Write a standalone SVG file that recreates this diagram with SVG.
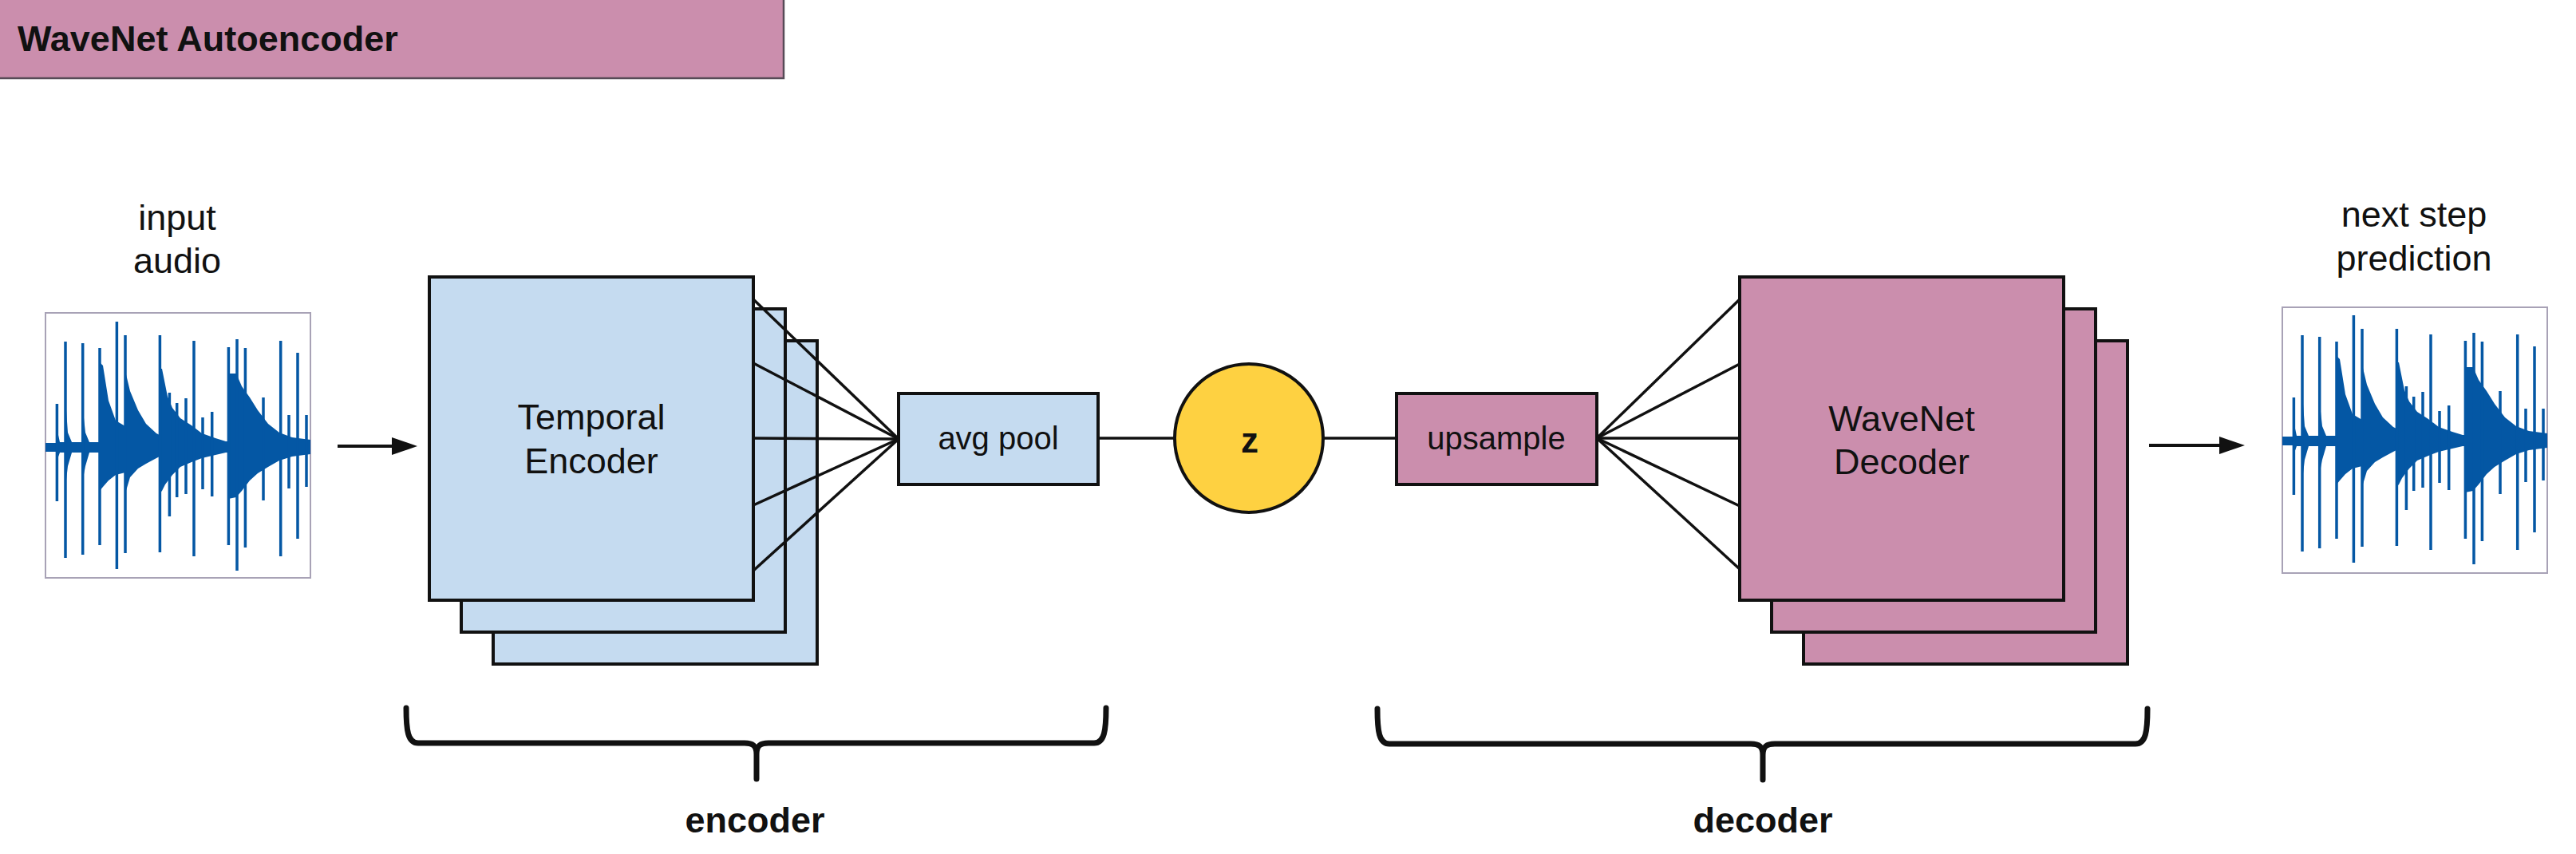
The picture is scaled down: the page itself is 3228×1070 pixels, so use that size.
<svg xmlns="http://www.w3.org/2000/svg" xmlns:xlink="http://www.w3.org/1999/xlink" width="3228" height="1070" viewBox="0 0 3228 1070">
<style>
  .lbl{font-family:"Liberation Sans",Arial,Helvetica,sans-serif;font-size:45px;fill:#111;text-anchor:middle}
  .small{font-size:40px}
  .bold{font-weight:bold}
  .blue{fill:#c5dbf0;stroke:#111;stroke-width:4}
  .pink{fill:#cb8ead;stroke:#111;stroke-width:4}
  .yellow{fill:#fed141;stroke:#111;stroke-width:4}
  .audiobox{fill:#fff;stroke:#a8a2b6;stroke-width:2}
  .wire{stroke:#111;stroke-width:3.5;fill:none}
  .arrow{stroke:#111;stroke-width:4;fill:none}
  .brace{stroke:#111;stroke-width:7;fill:none;stroke-linecap:round;stroke-linejoin:round}
  .wave{fill:#0457a4}
  .spk{stroke:#0457a4;stroke-width:3.5;fill:none}
</style>
<defs>
  <marker id="ah" markerUnits="userSpaceOnUse" markerWidth="32" markerHeight="22" refX="4" refY="11" orient="auto">
    <path d="M0,0 L32,11 L0,22 Z" fill="#111"/>
  </marker>
  <g id="waveform">
    <path class="wave" d="M0,-5 L14,-5 L14,-24 L18,-6 L25,-6 L25,-60 L28,-18 L33,-6 L46,-6 L46,-55 L50,-18 L55,-6 L68,-6 L68,-106 L72,-102 L79,-58 L88,-33 L100,-26 L100,-95 L106,-70 L116,-46 L126,-29 L139,-17 L143,-15 L143,-98 L146,-98 L153,-63 L159,-49 L169,-36 L183,-27 L196,-17 L213,-11 L226,-7 L229,-7 L229,-92 L239,-92 L246,-76 L256,-62 L266,-46 L279,-29 L293,-18 L309,-12 L332,-9 L332,9 L309,12 L293,17 L279,25 L266,33 L256,42 L246,55 L239,63 L229,65 L229,7 L226,7 L213,10 L196,14 L183,19 L169,25 L159,35 L150,47 L146,55 L143,58 L143,12 L139,14 L126,21 L116,27 L106,38 L100,58 L100,32 L88,35 L79,42 L72,50 L68,55 L68,7 L55,7 L50,24 L46,45 L46,7 L33,7 L28,24 L25,50 L25,7 L18,7 L14,18 L14,6 L0,6 Z"/>
    <path class="spk" d="M14.4,-54V68 M25,-132V139 M46.7,-130V135 M68,-124V123 M89.4,-157V153 M100,-140V133 M143.4,-140V132 M155.4,-68V87 M164.7,-55V63 M176,-61V59 M186,-133V137 M197,-37V53 M208.7,-44V62 M229.4,-125V123 M240,-135V155 M250.4,-124V126 M273,-62V67 M294.7,-133V137 M305,-40V52 M316,-118V115 M327,-40V50"/>
  </g>
</defs>

<rect width="3228" height="1070" fill="#fff"/>

<g id="title">
  <rect x="-3" y="-3" width="985" height="101" fill="#cb8ead" stroke="#574b57" stroke-width="2.5"/>
  <text class="lbl bold" x="22" y="64" style="text-anchor:start">WaveNet Autoencoder</text>
</g>

<g id="input-audio">
  <text class="lbl" x="222" y="288">input</text>
  <text class="lbl" x="222" y="342">audio</text>
  <rect class="audiobox" x="57" y="392" width="332" height="332"/>
  <use xlink:href="#waveform" href="#waveform" transform="translate(57,560)"/>
</g>

<g id="temporal-encoder">
  <rect class="blue" x="618" y="427" width="406" height="405"/>
  <rect class="blue" x="578" y="387" width="406" height="405"/>
  <rect class="blue" x="538" y="347" width="406" height="405"/>
  <text class="lbl" x="741" y="538">Temporal</text>
  <text class="lbl" x="741" y="593">Encoder</text>
</g>

<g id="avg-pool">
  <rect class="blue" x="1126" y="493" width="250" height="114"/>
  <text class="lbl small" x="1251" y="563">avg pool</text>
</g>

<g id="z">
  <circle class="yellow" cx="1565" cy="549" r="93"/>
  <text class="lbl bold" x="1566" y="567" style="font-size:44px">z</text>
</g>

<g id="upsample">
  <rect class="pink" x="1750" y="493" width="251" height="114"/>
  <text class="lbl small" x="1875" y="563">upsample</text>
</g>

<g id="wavenet-decoder">
  <rect class="pink" x="2260" y="427" width="406" height="405"/>
  <rect class="pink" x="2220" y="387" width="406" height="405"/>
  <rect class="pink" x="2180" y="347" width="406" height="405"/>
  <text class="lbl" x="2383" y="540">WaveNet</text>
  <text class="lbl" x="2383" y="594">Decoder</text>
</g>

<g id="next-step-prediction">
  <text class="lbl" x="3025" y="284">next step</text>
  <text class="lbl" x="3025" y="339">prediction</text>
  <rect class="audiobox" x="2860" y="385" width="332" height="333"/>
  <use xlink:href="#waveform" href="#waveform" transform="translate(2860,552)"/>
</g>

<g id="encoder-brace">
  <path class="brace" d="M509,887 C509,915 511,931 524,931 H933 C943,931 948,934 948,945 V976 M948,945 C948,934 953,931 963,931 H1371 C1384,931 1386,915 1386,887"/>
  <text class="lbl bold" x="946" y="1043">encoder</text>
</g>

<g id="decoder-brace">
  <path class="brace" d="M1726,888 C1726,916 1728,932 1741,932 H2194 C2204,932 2209,935 2209,946 V977 M2209,946 C2209,935 2214,932 2224,932 H2676 C2689,932 2691,916 2691,888"/>
  <text class="lbl bold" x="2209" y="1043">decoder</text>
</g>

<g id="connectors">
  <line class="arrow" x1="423" y1="559" x2="495" y2="559" marker-end="url(#ah)"/>
  <line class="wire" x1="944" y1="375" x2="1126" y2="550"/>
  <line class="wire" x1="944" y1="455" x2="1126" y2="550"/>
  <line class="wire" x1="944" y1="549" x2="1126" y2="550"/>
  <line class="wire" x1="944" y1="633" x2="1126" y2="550"/>
  <line class="wire" x1="944" y1="715" x2="1126" y2="550"/>
  <line class="wire" x1="1376" y1="549" x2="1472" y2="549"/>
  <line class="wire" x1="1658" y1="549" x2="1750" y2="549"/>
  <line class="wire" x1="2001" y1="549" x2="2180" y2="375"/>
  <line class="wire" x1="2001" y1="549" x2="2180" y2="456"/>
  <line class="wire" x1="2001" y1="549" x2="2180" y2="549"/>
  <line class="wire" x1="2001" y1="549" x2="2180" y2="634"/>
  <line class="wire" x1="2001" y1="549" x2="2180" y2="713"/>
  <line class="arrow" x1="2693" y1="558" x2="2785" y2="558" marker-end="url(#ah)"/>
</g>
</svg>
